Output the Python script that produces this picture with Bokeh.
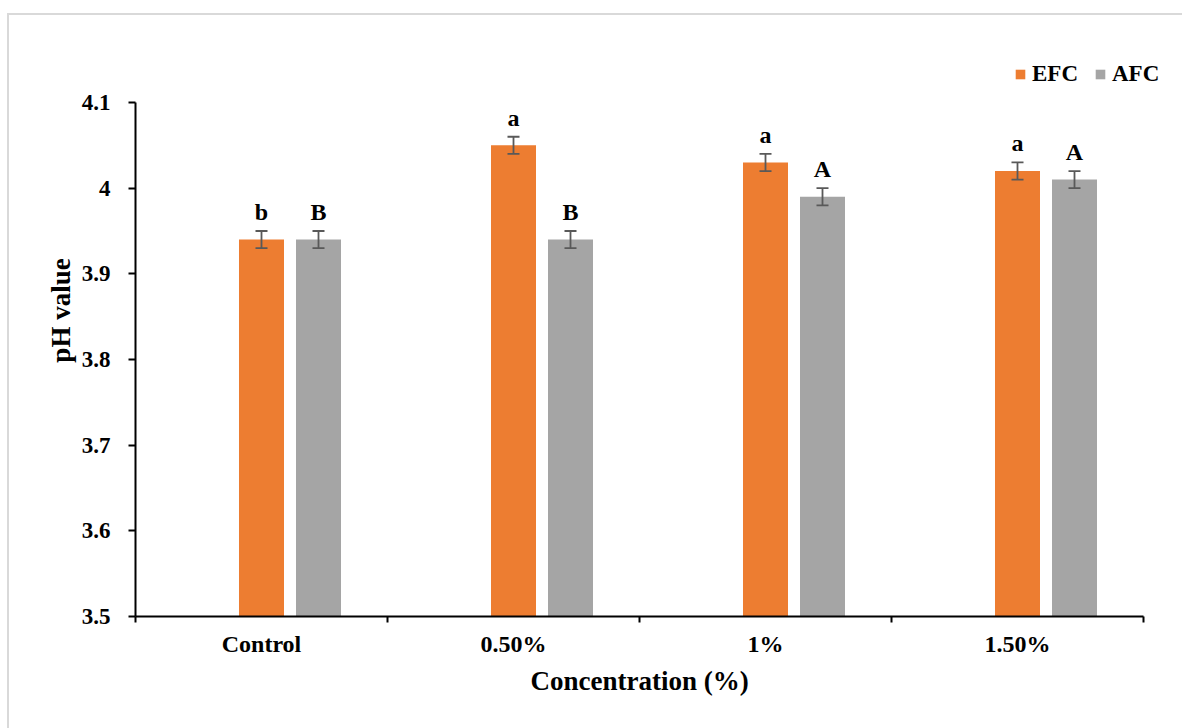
from bokeh.plotting import figure
from bokeh.models import (ColumnDataSource, FixedTicker, NumeralTickFormatter, Whisker,
                          TeeHead, Legend, LegendItem, Range1d, Title)
from bokeh.core.properties import value
from bokeh.embed import file_html
from bokeh.resources import INLINE

# ---- data ----
categories = ["Control", "0.50%", "1%", "1.50%"]
efc_values = [3.94, 4.05, 4.03, 4.02]
afc_values = [3.94, 3.94, 3.99, 4.01]
efc_err = [0.01, 0.01, 0.01, 0.01]
afc_err = [0.01, 0.01, 0.01, 0.01]
efc_letters = ["b", "a", "a", "a"]
afc_letters = ["B", "B", "A", "A"]
y_ticks = [3.5, 3.6, 3.7, 3.8, 3.9, 4.0, 4.1]
x_title = "Concentration (%)"
y_title = "pH value"

FONT = "Liberation Serif"
ORANGE = "#ED7D31"
GRAY = "#A5A5A5"
ERR = "#595959"

n = len(categories)
centers = [i + 0.5 for i in range(n)]
bar_w = 0.1786
afc_shift = 0.2262

# layout (pixels): y axis from y=102 (4.1) to y=616 (3.5); x axis from x=135 to 1143.
# The frame is extended (transparent) above and to the right so the legend is not clipped.
W, H = 1182, 728
FRAME_TOP, AXIS_TOP, AXIS_BOTTOM = 4, 102, 616
AXIS_LEFT, AXIS_RIGHT, FRAME_RIGHT = 135, 1143, 1180
y_lo, y_hi = y_ticks[0], y_ticks[-1]
py_per_unit = (AXIS_BOTTOM - AXIS_TOP) / (y_hi - y_lo)
y_end = y_lo + (AXIS_BOTTOM - FRAME_TOP) / py_per_unit
px_per_unit = (AXIS_RIGHT - AXIS_LEFT) / n
x_end = n + (FRAME_RIGHT - AXIS_RIGHT) / px_per_unit

efc_src = ColumnDataSource(dict(
    x=centers, top=efc_values,
    lo=[v - e for v, e in zip(efc_values, efc_err)],
    hi=[v + e for v, e in zip(efc_values, efc_err)],
    lab=efc_letters))
afc_src = ColumnDataSource(dict(
    x=[c + afc_shift for c in centers], top=afc_values,
    lo=[v - e for v, e in zip(afc_values, afc_err)],
    hi=[v + e for v, e in zip(afc_values, afc_err)],
    lab=afc_letters))

p = figure(width=W, height=H, output_backend="svg", toolbar_location=None,
           x_range=Range1d(0, x_end), y_range=Range1d(y_lo, y_end),
           min_border_left=AXIS_LEFT, min_border_right=W - FRAME_RIGHT,
           min_border_top=FRAME_TOP, min_border_bottom=H - AXIS_BOTTOM)
p.outline_line_color = None
p.xgrid.visible = False
p.ygrid.visible = False
p.background_fill_alpha = 0
p.border_fill_alpha = 0
p.styles = {
    "background": ("linear-gradient(#D9D9D9, #D9D9D9) 7px 13px / 100% 2px no-repeat, "
                   "linear-gradient(#D9D9D9, #D9D9D9) 7px 13px / 2px 100% no-repeat, white"),
}

r_efc = p.vbar(x="x", top="top", bottom=y_lo, width=bar_w, source=efc_src,
               fill_color=ORANGE, line_color=None)
r_afc = p.vbar(x="x", top="top", bottom=y_lo, width=bar_w, source=afc_src,
               fill_color=GRAY, line_color=None)

for src in (efc_src, afc_src):
    w = Whisker(source=src, base="x", lower="lo", upper="hi", level="annotation",
                line_color=ERR, line_width=1.8,
                upper_head=TeeHead(size=12, line_color=ERR, line_width=1.8),
                lower_head=TeeHead(size=12, line_color=ERR, line_width=1.8))
    p.add_layout(w)
    p.text(x="x", y="hi", text="lab", source=src, text_align="center",
           text_baseline="alphabetic", y_offset=-19,
           text_font=value(FONT), text_font_style="bold",
           text_font_size="24px", text_color="black")

# x axis: labels at category centres, ticks at boundaries (minor ticks)
xax = p.xaxis[0]
xax.bounds = (0, n)
xax.ticker = FixedTicker(ticks=centers, minor_ticks=list(range(n + 1)))
xax.major_label_overrides = {c: lab for c, lab in zip(centers, categories)}
xax.major_tick_out = 0
xax.major_tick_in = 0
xax.minor_tick_out = 6
xax.minor_tick_in = 0
xax.minor_tick_line_color = "black"
xax.minor_tick_line_width = 2
xax.axis_line_width = 2
xax.axis_line_color = "black"
xax.major_label_standoff = 8
xax.major_label_text_font = FONT
xax.major_label_text_font_style = "bold"
xax.major_label_text_font_size = "24px"
xax.major_label_text_color = "black"

# x title centred under the axis (not under the widened frame)
p.add_layout(Title(text=x_title, align="left", offset=395, standoff=8,
                   text_font=FONT, text_font_style="bold", text_font_size="27px",
                   text_color="black"), "below")

yax = p.yaxis[0]
yax.bounds = (y_lo, y_hi)
yax.ticker = FixedTicker(ticks=y_ticks, minor_ticks=[])
yax.formatter = NumeralTickFormatter(format="0.[0]")
yax.major_tick_out = 7
yax.major_tick_in = 0
yax.major_tick_line_width = 2
yax.major_tick_line_color = "black"
yax.axis_line_width = 2
yax.axis_line_color = "black"
yax.major_label_standoff = 18
yax.major_label_text_font = FONT
yax.major_label_text_font_style = "bold"
yax.major_label_text_font_size = "23px"
yax.major_label_text_color = "black"
yax.axis_label = y_title
yax.axis_label_text_font = FONT
yax.axis_label_text_font_style = "bold"
yax.axis_label_text_font_size = "27px"
yax.axis_label_text_color = "black"
yax.axis_label_standoff = 3

legend = Legend(items=[LegendItem(label="EFC", renderers=[r_efc]),
                       LegendItem(label="AFC", renderers=[r_afc])],
                orientation="horizontal", location=(879, 529),
                glyph_width=12, glyph_height=12, label_standoff=6, spacing=16,
                padding=0, margin=0, border_line_color=None,
                background_fill_alpha=0,
                label_text_font=FONT, label_text_font_style="bold",
                label_text_font_size="23px", label_text_color="black")
p.add_layout(legend, "center")

open("out.html", "w").write(file_html(p, INLINE))
